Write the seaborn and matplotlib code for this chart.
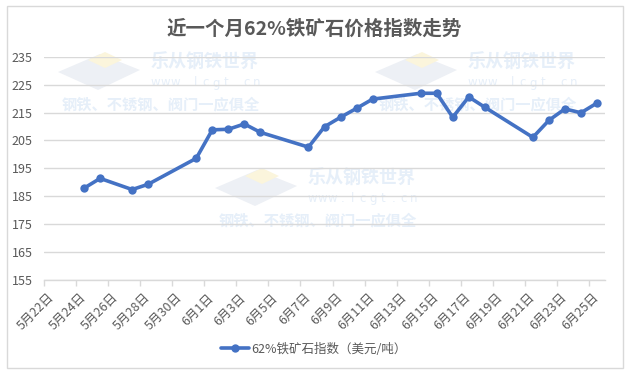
import matplotlib
matplotlib.use("Agg")
import matplotlib.pyplot as plt
import matplotlib.transforms as mtransforms
from matplotlib.patches import Rectangle, Polygon
import seaborn as sns
import pandas as pd

# ---- data ----
dates = ["2021-05-24", "2021-05-25", "2021-05-27", "2021-05-28", "2021-05-31",
         "2021-06-01", "2021-06-02", "2021-06-03", "2021-06-04", "2021-06-07",
         "2021-06-08", "2021-06-09", "2021-06-10", "2021-06-11", "2021-06-14",
         "2021-06-15", "2021-06-16", "2021-06-17", "2021-06-18", "2021-06-21",
         "2021-06-22", "2021-06-23", "2021-06-24", "2021-06-25"]
values = [187.9, 191.4, 187.4, 189.3, 198.6,
          208.8, 209.0, 210.9, 207.9, 202.6,
          209.9, 213.3, 216.5, 219.8, 221.9,
          221.9, 213.3, 220.6, 216.9, 206.1,
          212.2, 216.3, 214.9, 218.4]
series_name = "62%铁矿石指数（美元/吨）"
title = "近一个月62%铁矿石价格指数走势"
tick_dates = pd.date_range("2021-05-22", "2021-06-25", freq="2D")
tick_labels = [f"{d.month}月{d.day}日" for d in tick_dates]
y_ticks = [155, 165, 175, 185, 195, 205, 215, 225, 235]
wm_line1 = "乐从钢铁世界"
wm_line2 = "www.lcgt.cn"
wm_line3 = "钢铁、不锈钢、阀门一应俱全"

sns.set_theme(style="white")
plt.rcParams["font.family"] = ["Noto Sans CJK SC", "DejaVu Sans"]

W, H = 632, 375
fig = plt.figure(figsize=(W / 100, H / 100), dpi=100)
fig.patch.set_facecolor("white")

# chart border
fig.patches.append(Rectangle((7 / W, 1 - 368 / H), (623 - 7) / W, (368 - 6) / H,
                             transform=fig.transFigure, fill=False,
                             edgecolor="#D9D9D9", linewidth=1.0, zorder=0))

ax = fig.add_axes([44 / W, 1 - 280 / H, (605 - 44) / W, (280 - 56.7) / H])
ax.set_facecolor("none")
ax.set_zorder(2)

# watermarks (faint)
wm_col = "#E6EFF9"
def watermark(x, y):
    # logo approximation
    fig.patches.append(Polygon([((x - 92) / W, 1 - (y + 10) / H), ((x - 50) / W, 1 - (y - 8) / H),
                                ((x - 10) / W, 1 - (y + 8) / H), ((x - 52) / W, 1 - (y + 28) / H)],
                               closed=True, transform=fig.transFigure,
                               facecolor="#EDF0F5", edgecolor="none", zorder=0))
    fig.patches.append(Polygon([((x - 62) / W, 1 - (y - 2) / H), ((x - 45) / W, 1 - (y - 10) / H),
                                ((x - 28) / W, 1 - (y - 2) / H), ((x - 45) / W, 1 - (y + 6) / H)],
                               closed=True, transform=fig.transFigure,
                               facecolor="#FBF5DC", edgecolor="none", zorder=0))
    fig.text((x + 55) / W, 1 - y / H, wm_line1, color=wm_col, fontsize=13,
             fontweight="bold", ha="center", va="center", zorder=0)
    for i, ch in enumerate(wm_line2):
        fig.text((x + 5 + i * 10.2) / W, 1 - (y + 21) / H, ch, color=wm_col, fontsize=8.5,
                 ha="center", va="center", zorder=0, fontfamily="DejaVu Sans")
    fig.text((x + 110) / W, 1 - (y + 42) / H, wm_line3, color=wm_col, fontsize=11,
             fontweight="bold", ha="right", va="center", zorder=0)

watermark(150, 62)
watermark(307, 178)
watermark(467, 62)

df = pd.DataFrame({"date": pd.to_datetime(dates) + pd.Timedelta(hours=12),
                   "value": values, "series": series_name})

sns.lineplot(data=df, x="date", y="value", hue="series", palette=["#4472C4"],
             marker="o", markersize=6, markeredgewidth=0, linewidth=2.6,
             ax=ax, legend=True, zorder=3)

ax.set_xlim(pd.Timestamp("2021-05-22"), pd.Timestamp("2021-06-26"))
ax.set_ylim(155, 235)
ax.set_yticks(y_ticks)
ax.set_yticklabels([str(v) for v in y_ticks])
ax.set_xticks(tick_dates)
ax.set_xticklabels(tick_labels, rotation=45, ha="right", va="top", rotation_mode="anchor")
ax.set_xlabel("")
ax.set_ylabel("")

ax.grid(axis="y", color="#D9D9D9", linewidth=1.0)
ax.grid(axis="x", visible=False)
for s in ["top", "right", "left"]:
    ax.spines[s].set_visible(False)
ax.spines["bottom"].set_color("#D9D9D9")
ax.spines["bottom"].set_linewidth(1.0)

ax.tick_params(axis="y", length=0, pad=8, labelsize=9, labelcolor="#595959")
ax.tick_params(axis="x", length=4, width=1.0, color="#D9D9D9", direction="out",
               pad=4, labelsize=9, labelcolor="#595959", bottom=True)
offset = mtransforms.ScaledTranslation(3 / 100, 0, fig.dpi_scale_trans)
for lab in ax.get_xticklabels():
    lab.set_transform(lab.get_transform() + offset)

fig.text(314 / W, 1 - 29 / H, title, ha="center", va="center", fontsize=14,
         fontweight="bold", color="#595959")

handles, labels = ax.get_legend_handles_labels()
ax.legend_.remove()
fig.legend(handles, labels, loc="center", bbox_to_anchor=(314 / W, 1 - 349 / H),
           frameon=False, fontsize=9, labelcolor="#595959", handlelength=2.2,
           handletextpad=0.2)

fig.savefig("out.png", dpi=100, facecolor="white")
